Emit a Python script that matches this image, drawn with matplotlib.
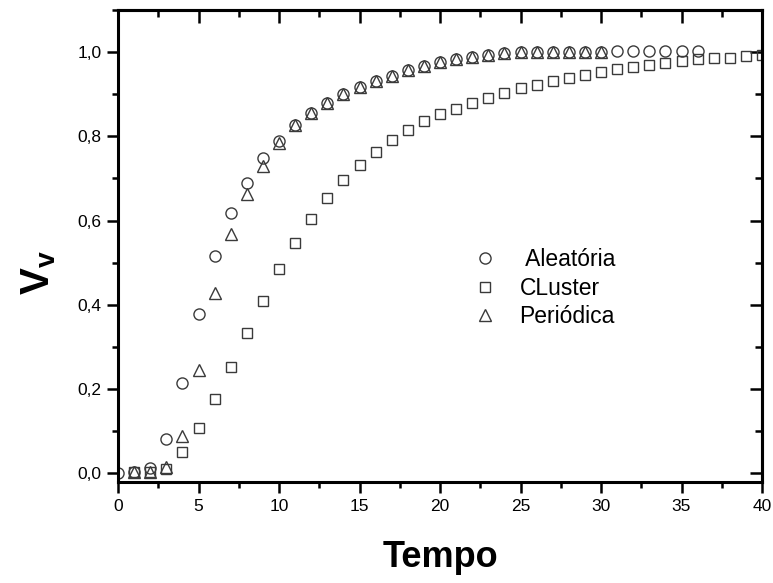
import numpy as np
import matplotlib
matplotlib.use("Agg")
import matplotlib.pyplot as plt
from matplotlib.ticker import MultipleLocator, FuncFormatter

# dados
tempo_ale = np.arange(0, 37)
aleatoria = [0.0, 0.003, 0.013, 0.08, 0.214, 0.377, 0.515, 0.617, 0.69, 0.748,
             0.789, 0.826, 0.855, 0.88, 0.9, 0.918, 0.932, 0.943, 0.957, 0.967,
             0.977, 0.983, 0.989, 0.994, 0.997, 1.0, 1.0, 1.0, 1.0, 1.0,
             1.0, 1.002, 1.002, 1.002, 1.002, 1.002, 1.002]

tempo_clu = np.arange(1, 41)
cluster = [0.002, 0.002, 0.01, 0.051, 0.108, 0.175, 0.252, 0.332, 0.409, 0.484,
           0.547, 0.603, 0.654, 0.696, 0.733, 0.763, 0.791, 0.815, 0.837, 0.853,
           0.866, 0.88, 0.892, 0.903, 0.914, 0.922, 0.931, 0.939, 0.945, 0.952,
           0.959, 0.964, 0.969, 0.975, 0.979, 0.983, 0.985, 0.987, 0.99, 0.994]

tempo_per = np.arange(1, 31)
periodica = [0.003, 0.003, 0.015, 0.088, 0.245, 0.427, 0.567, 0.662, 0.73, 0.785,
             0.826, 0.855, 0.88, 0.9, 0.918, 0.932, 0.943, 0.957, 0.967, 0.977,
             0.983, 0.989, 0.994, 0.997, 1.0, 1.0, 1.0, 1.0, 1.0, 1.0]

plt.rcParams['font.family'] = ['Liberation Sans', 'DejaVu Sans']
plt.rcParams['mathtext.fontset'] = 'custom'
plt.rcParams['mathtext.bf'] = 'Liberation Sans:bold'
plt.rcParams['mathtext.rm'] = 'Liberation Sans'

fig = plt.figure(figsize=(7.73, 5.83), dpi=100)
ax = fig.add_axes([0.1527, 0.1732, 0.8331, 0.8096])

cor = '#3a3a3a'
ax.plot(tempo_ale, aleatoria, 'o', ms=8, mfc='none', mec=cor, mew=1.0, label=' Aleatória')
ax.plot(tempo_clu, cluster, 's', ms=7.5, mfc='none', mec=cor, mew=1.0, label='CLuster')
ax.plot(tempo_per, periodica, '^', ms=9, mfc='none', mec=cor, mew=1.0, label='Periódica')

ax.set_xlim(0, 40)
ax.set_ylim(-0.021, 1.10)

for s in ax.spines.values():
    s.set_linewidth(2.2)

ax.xaxis.set_major_locator(MultipleLocator(5))
ax.xaxis.set_minor_locator(MultipleLocator(2.5))
ax.yaxis.set_major_locator(MultipleLocator(0.2))
ax.yaxis.set_minor_locator(MultipleLocator(0.1))
ax.yaxis.set_major_formatter(FuncFormatter(lambda v, p: f'{v:.1f}'.replace('.', ',')))

ax.tick_params(which='both', direction='out', width=1.8, top=False, right=False)
ax.tick_params(which='major', length=8, labelsize=12.5, pad=4)
ax.tick_params(which='minor', length=4.5)

# ticks internos no topo e na direita
axt = ax.secondary_xaxis('top')
axt.xaxis.set_major_locator(MultipleLocator(5))
axt.xaxis.set_minor_locator(MultipleLocator(2.5))
axt.tick_params(which='both', direction='in', width=1.8, labeltop=False)
axt.tick_params(which='major', length=9)
axt.tick_params(which='minor', length=5)
axt.spines['top'].set_linewidth(2.2)
axr = ax.secondary_yaxis('right')
axr.yaxis.set_major_locator(MultipleLocator(0.2))
axr.yaxis.set_minor_locator(MultipleLocator(0.1))
axr.tick_params(which='both', direction='in', width=1.8, labelright=False)
axr.tick_params(which='major', length=9)
axr.tick_params(which='minor', length=5)
axr.spines['right'].set_linewidth(2.2)

ax.set_xlabel('Tempo', fontsize=26, fontweight='bold', labelpad=19)
ax.set_ylabel(r'$\mathbf{V_v}$', fontsize=29)
ax.yaxis.set_label_coords(-0.093, 0.443)

ax.legend(loc='upper left', bbox_to_anchor=(0.531, 0.521), frameon=False,
          fontsize=16.5, handletextpad=0.9, labelspacing=0.26, borderpad=0,
          handlelength=1.2)

fig.savefig('out.png', dpi=100)
